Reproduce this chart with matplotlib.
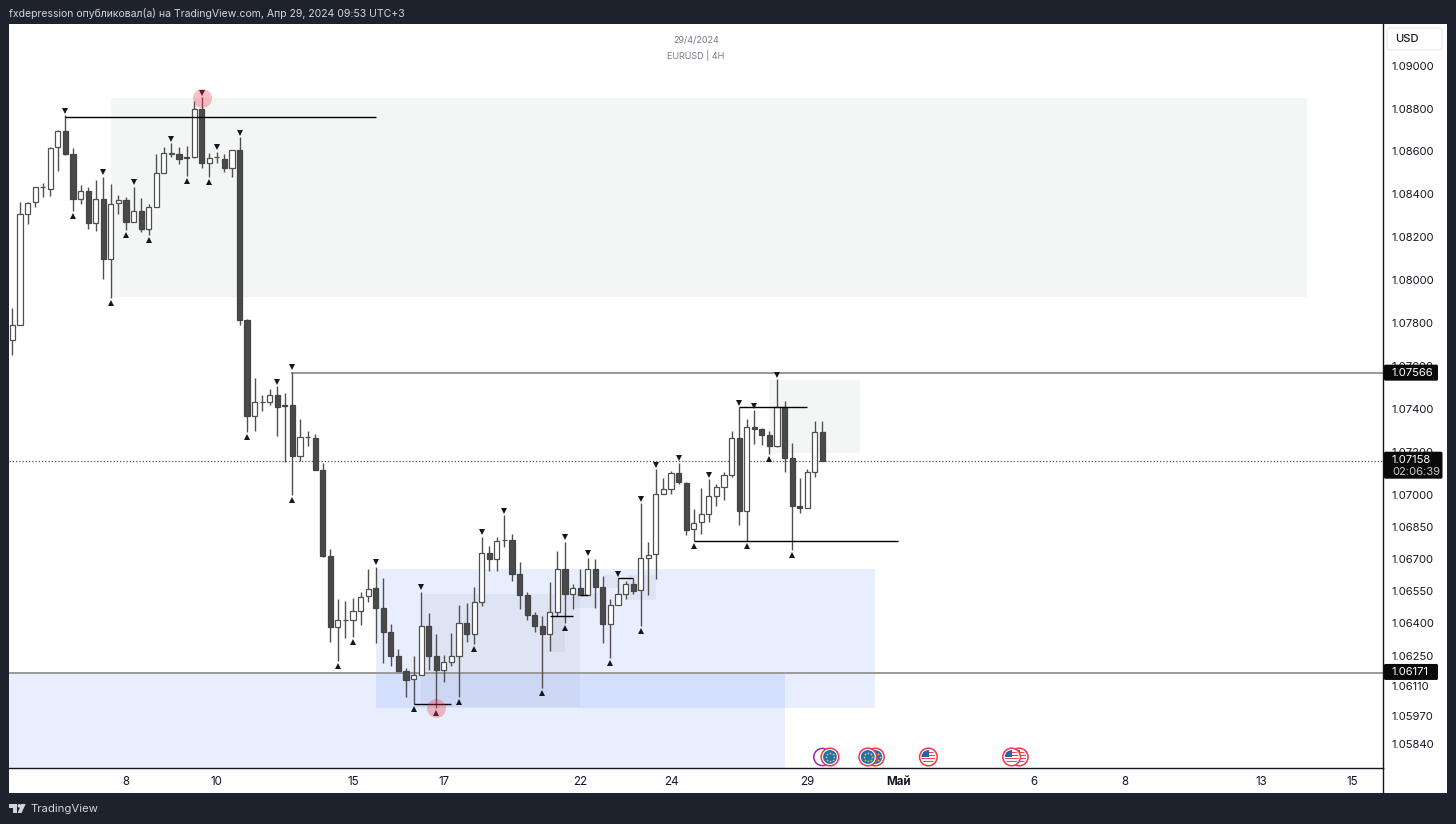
import numpy as np
import matplotlib
matplotlib.use("Agg")
import matplotlib.pyplot as plt
from matplotlib.patches import Rectangle, Circle, FancyBboxPatch, Polygon

plt.rcParams['font.family'] = ['Inter', 'Roboto', 'DejaVu Sans']

# --- candles, EURUSD 4H ---
opens = [1.07721, 1.07790, 1.08308, 1.08362, 1.08432, 1.08427, 1.08619, 1.08693, 1.08587, 1.08376,
         1.08416, 1.08267, 1.08376, 1.08097, 1.08359, 1.08374, 1.08272, 1.08323, 1.08238, 1.08342,
         1.08500, 1.08590, 1.08587, 1.08573, 1.08575, 1.08800, 1.08547, 1.08573, 1.08567, 1.08525,
         1.08605, 1.07812, 1.07368, 1.07433, 1.07430, 1.07464, 1.07417, 1.07419, 1.07181, 1.07268,
         1.07264, 1.07114, 1.06714, 1.06383, 1.06416, 1.06415, 1.06457, 1.06527, 1.06563, 1.06473,
         1.06359, 1.06246, 1.06179, 1.06139, 1.06160, 1.06387, 1.06247, 1.06184, 1.06219, 1.06249,
         1.06400, 1.06349, 1.06498, 1.06729, 1.06701, 1.06787, 1.06787, 1.06628, 1.06533, 1.06437,
         1.06387, 1.06349, 1.06454, 1.06654, 1.06536, 1.06563, 1.06533, 1.06654, 1.06568, 1.06397,
         1.06486, 1.06537, 1.06586, 1.06554, 1.06706, 1.06724, 1.07004, 1.07028, 1.07099, 1.07055,
         1.06838, 1.06871, 1.06909, 1.06996, 1.07038, 1.07094, 1.07262, 1.06926, 1.07315, 1.07304,
         1.07278, 1.07228, 1.07411, 1.07169, 1.06948, 1.06936, 1.07104, 1.07290]
highs = [1.07870, 1.08364, 1.08365, 1.08435, 1.08452, 1.08621, 1.08702, 1.08769, 1.08617, 1.08443,
         1.08432, 1.08466, 1.08481, 1.08447, 1.08396, 1.08388, 1.08435, 1.08381, 1.08357, 1.08587,
         1.08621, 1.08637, 1.08621, 1.08625, 1.08836, 1.08852, 1.08591, 1.08598, 1.08587, 1.08606,
         1.08665, 1.07817, 1.07546, 1.07464, 1.07493, 1.07506, 1.07475, 1.07573, 1.07352, 1.07298,
         1.07285, 1.07146, 1.06749, 1.06512, 1.06505, 1.06519, 1.06547, 1.06652, 1.06664, 1.06610,
         1.06397, 1.06283, 1.06190, 1.06247, 1.06547, 1.06449, 1.06349, 1.06252, 1.06353, 1.06488,
         1.06493, 1.06568, 1.06803, 1.06760, 1.06803, 1.06905, 1.06816, 1.06687, 1.06547, 1.06454,
         1.06434, 1.06594, 1.06738, 1.06780, 1.06586, 1.06653, 1.06706, 1.06698, 1.06620, 1.06512,
         1.06610, 1.06597, 1.06610, 1.06959, 1.06780, 1.07118, 1.07080, 1.07111, 1.07148, 1.07060,
         1.06933, 1.07029, 1.07071, 1.07049, 1.07104, 1.07295, 1.07408, 1.07355, 1.07394, 1.07310,
         1.07298, 1.07537, 1.07437, 1.07242, 1.07078, 1.07118, 1.07343, 1.07343]
lows = [1.07651, 1.07790, 1.08261, 1.08340, 1.08387, 1.08393, 1.08508, 1.08583, 1.08322, 1.08353,
        1.08238, 1.08230, 1.08006, 1.07915, 1.08308, 1.08233, 1.08272, 1.08224, 1.08210, 1.08342,
        1.08500, 1.08575, 1.08541, 1.08486, 1.08569, 1.08522, 1.08479, 1.08544, 1.08503, 1.08479,
        1.07790, 1.07293, 1.07298, 1.07389, 1.07417, 1.07273, 1.07153, 1.06998, 1.07158, 1.07228,
        1.07114, 1.06709, 1.06314, 1.06226, 1.06331, 1.06337, 1.06392, 1.06499, 1.06309, 1.06216,
        1.06201, 1.06178, 1.06058, 1.06022, 1.06160, 1.06185, 1.06004, 1.06128, 1.06201, 1.06058,
        1.06314, 1.06302, 1.06482, 1.06644, 1.06645, 1.06754, 1.06598, 1.06465, 1.06415, 1.06361,
        1.06097, 1.06271, 1.06434, 1.06400, 1.06466, 1.06532, 1.06533, 1.06474, 1.06307, 1.06239,
        1.06486, 1.06513, 1.06536, 1.06389, 1.06532, 1.06605, 1.07004, 1.07002, 1.07049, 1.06811,
        1.06785, 1.06815, 1.06873, 1.06948, 1.06975, 1.07083, 1.06858, 1.06785, 1.07236, 1.07232,
        1.07188, 1.07220, 1.07106, 1.06741, 1.06915, 1.06936, 1.07083, 1.07158]
closes = [1.07790, 1.08308, 1.08361, 1.08432, 1.08433, 1.08617, 1.08693, 1.08589, 1.08376, 1.08416,
          1.08267, 1.08376, 1.08098, 1.08357, 1.08374, 1.08272, 1.08323, 1.08238, 1.08342, 1.08500,
          1.08591, 1.08592, 1.08564, 1.08570, 1.08800, 1.08547, 1.08569, 1.08575, 1.08525, 1.08605,
          1.07814, 1.07368, 1.07431, 1.07434, 1.07463, 1.07411, 1.07412, 1.07181, 1.07267, 1.07270,
          1.07116, 1.06714, 1.06383, 1.06414, 1.06418, 1.06456, 1.06524, 1.06561, 1.06473, 1.06361,
          1.06246, 1.06179, 1.06136, 1.06159, 1.06387, 1.06249, 1.06182, 1.06218, 1.06246, 1.06403,
          1.06349, 1.06498, 1.06729, 1.06700, 1.06785, 1.06789, 1.06630, 1.06533, 1.06438, 1.06387,
          1.06349, 1.06454, 1.06654, 1.06536, 1.06563, 1.06532, 1.06654, 1.06569, 1.06397, 1.06486,
          1.06536, 1.06584, 1.06552, 1.06706, 1.06721, 1.07002, 1.07026, 1.07099, 1.07057, 1.06836,
          1.06869, 1.06908, 1.06996, 1.07037, 1.07092, 1.07262, 1.06926, 1.07315, 1.07304, 1.07279,
          1.07228, 1.07411, 1.07170, 1.06948, 1.06936, 1.07104, 1.07290, 1.07158]

# pivot marks (bar numbers)
top_marks = [7, 12, 16, 21, 25, 27, 30, 35, 37, 48, 54, 62, 65, 73, 76, 80, 83, 85, 88, 92, 96, 98, 101]
bottom_marks = [8, 13, 15, 18, 23, 26, 31, 37, 43, 45, 53, 56, 59, 61, 70, 73, 79, 83, 90, 97, 100, 103]

# price scale and time scale
price_ticks = [1.09, 1.088, 1.086, 1.084, 1.082, 1.08, 1.078, 1.076, 1.074, 1.072, 1.07,
               1.0685, 1.067, 1.0655, 1.064, 1.0625, 1.0611, 1.0597, 1.0584]
day_bars = [15, 27, 45, 57, 75, 87, 105, 117, 135, 147, 165, 177]
day_labels = ['8', '10', '15', '17', '22', '24', '29', 'Май', '6', '8', '13', '15']

# zones: first bar, last bar, bottom price, top price
gray_zones = [(13, 171, 1.07921, 1.08848), (100, 112, 1.07194, 1.07534)]
blue_zones = [(-1, 102, 1.0500, 1.06171), (48, 114, 1.06005, 1.06653)]
shade_zones = [(54, 75, 1.06010, 1.06536), (71, 73, 1.06266, 1.06434), (74.3, 77.4, 1.06471, 1.06540),
               (78.2, 80, 1.06564, 1.06625), (81.2, 85, 1.06510, 1.06625)]

# levels: first bar, last bar, price
black_levels = [(7, 48, 1.08762), (90, 117, 1.06783), (96, 105, 1.07408), (53, 58, 1.06022),
                (71, 74, 1.06434), (75, 76, 1.06532), (80, 82, 1.06610)]
gray_levels = [(37, 182, 1.07566), (-1, 182, 1.06171)]
last_price = 1.07158
pink_bars = [25, 56]
pink_prices = [1.08848, 1.06005]
events_drawn = [(107, 'purple'), (108, 'eu'), (114, 'eu'), (113, 'eu'), (121, 'us'), (133, 'us'), (132, 'us')]

BG = '#1e222d'
DARK = '#131722'
WICK = '#505050'
BODY = '#4a4a4a'

W, H = 1456, 824
fig = plt.figure(figsize=(W / 100, H / 100), dpi=100, facecolor=BG)

# white panel behind chart and scales, then the chart itself
L, R, T, B = 9, 1383, 24, 768
BAR0, BARW = 12.4, 7.57
ax = fig.add_axes([L / W, 1 - B / H, (R - L) / W, (B - T) / H], facecolor='white')
ax.set_xlim((L - BAR0) / BARW, (R - BAR0) / BARW)
ax.set_ylim(1.05726, 1.09194)

n = len(opens)
bars = np.arange(n)
o, h, l, c = map(np.array, (opens, highs, lows, closes))

# zones
for x0, x1, p0, p1 in gray_zones:
    ax.add_patch(Rectangle((x0, p0), x1 - x0, p1 - p0, fc='#f4f6f6', ec='none', zorder=1))
for x0, x1, p0, p1 in blue_zones:
    ax.add_patch(Rectangle((x0, p0), x1 - x0, p1 - p0, fc='#2962ff', alpha=0.10, ec='none', zorder=1))
for x0, x1, p0, p1 in shade_zones:
    ax.add_patch(Rectangle((x0, p0), x1 - x0, p1 - p0, fc='#808890', alpha=0.09, ec='none', zorder=1))

# levels
for x0, x1, p in gray_levels:
    ax.plot([x0, x1], [p, p], color='#9a9a9a', lw=1.4, zorder=2)
ax.axhline(last_price, color='#555555', lw=0.9, ls=(0, (1, 1.6)), zorder=2)

# candles
up = c >= o
bottom = np.minimum(o, c)
height = np.abs(c - o)
ax.vlines(bars, l, h, color=WICK, lw=1.0, zorder=3)
ax.bar(bars[up], height[up], 0.68, bottom[up], fc='white', ec=WICK, lw=0.9, zorder=4)
ax.bar(bars[~up], height[~up], 0.68, bottom[~up], fc=BODY, ec='#444444', lw=0.9, zorder=4)

for x0, x1, p in black_levels:
    ax.plot([x0, x1], [p, p], color='black', lw=1.0, zorder=5, solid_capstyle='butt')

# pivots
ax.plot(top_marks, h[top_marks] + 0.00021, ls='none', marker='v', ms=4.3, color=DARK, mew=0, zorder=6)
ax.plot(bottom_marks, l[bottom_marks] - 0.00023, ls='none', marker='^', ms=4.3, color=DARK, mew=0, zorder=6)
ax.scatter(pink_bars, pink_prices, s=185, color='#f23645', alpha=0.32, lw=0, zorder=7)

# axes
for side in ('top', 'left'):
    ax.spines[side].set_visible(False)
for side in ('right', 'bottom'):
    ax.spines[side].set_color('#131722')
    ax.spines[side].set_linewidth(1.0)
ax.yaxis.tick_right()
ax.set_yticks(price_ticks, [f'{p:.5f}' for p in price_ticks])
ax.set_xticks(day_bars, day_labels)
ax.tick_params(axis='both', length=0, labelcolor=DARK)
ax.tick_params(axis='y', labelsize=8.1, pad=6)
ax.tick_params(axis='x', labelsize=8.3, pad=6)
ax.get_xticklabels()[7].set_fontweight('bold')


def y_px(price):
    return (price - 1.093053) / -0.00004661


# overlay in pixel coordinates for the furniture around the chart
ov = fig.add_axes([0, 0, 1, 1], facecolor='none')
ov.set_xlim(0, W)
ov.set_ylim(H, 0)
ov.axis('off')

# white strips (drawn below the chart axes)
fig.patches.append(Rectangle((L / W, 1 - 792.7 / H), (1447 - L) / W, (792.7 - T) / H,
                             transform=fig.transFigure, fc='white', ec='none', zorder=-1))
ov.plot([R, R], [B, 792.7], color=DARK, lw=1.0)

# USD button
ov.add_patch(FancyBboxPatch((1387, 28), 55, 22, boxstyle='round,pad=0,rounding_size=3',
                            fc='white', ec='#e6e8ee', lw=0.8))
ov.text(1395, 39, 'USD', fontsize=8.1, color=DARK, va='center', fontweight='medium')

# price labels on the scale
for p, txt, right in ((1.07566, '1.07566', 1438), (1.06171, '1.06171', 1438)):
    yc = y_px(p)
    ov.add_patch(FancyBboxPatch((1384, yc - 8.5), right - 1384, 16, boxstyle='round,pad=0,rounding_size=1.5',
                                fc='#0a0a0a', ec='none', zorder=5))
    ov.text(1392, yc - 0.5, txt, fontsize=8.1, color='white', va='center', zorder=6)
yc = y_px(last_price)
ov.add_patch(FancyBboxPatch((1384, yc - 9), 58.5, 27, boxstyle='round,pad=0,rounding_size=1.5',
                            fc='#0a0a0a', ec='none', zorder=5))
ov.text(1392, yc - 1, '1.07158', fontsize=8.1, color='white', va='center', zorder=6)
ov.text(1392, yc + 11.5, '02:06:39', fontsize=8.1, color='#c8c8c8', va='center', zorder=6)

# title block
ov.text(696, 40, '29/4/2024', fontsize=6.5, color='#787b86', ha='center', va='center')
ov.text(696, 55, 'EURUSD | 4H', fontsize=6.5, color='#787b86', ha='center', va='center')

# header and footer
ov.text(9, 13.5, 'fxdepression опубликовал(а) на TradingView.com, Апр 29, 2024 09:53 UTC+3',
        fontsize=7.55, color='#d1d4dc', va='center')
ov.text(30, 809, 'TradingView', fontsize=8.2, color='#d1d4dc', va='center')
ov.add_patch(Polygon([(9, 804), (17, 804), (17, 813), (13, 813), (13, 807.5), (9, 807.5)], fc='#d1d4dc', ec='none'))
ov.add_patch(Circle((19.3, 805.8), 1.8, fc='#d1d4dc', ec='none'))
ov.add_patch(Polygon([(21.3, 804), (25.7, 804), (21.5, 813), (17.6, 813)], fc='#d1d4dc', ec='none'))


# calendar event icons along the bottom of the chart
def event_icon(bar, kind):
    xc = BAR0 + BARW * bar
    yc = 757
    if kind == 'purple':
        ov.add_patch(Circle((xc, yc), 8.6, fc='white', ec='#9c27b0', lw=1.1, zorder=3))
        return
    ov.add_patch(Circle((xc, yc), 8.8, fc='white', ec='#f23645', lw=1.1, zorder=3))
    if kind == 'eu':
        ov.add_patch(Circle((xc, yc), 6.9, fc='#1b6fbf', ec='none', zorder=3))
        angles = np.linspace(0, 2 * np.pi, 8, endpoint=False)
        ov.plot(xc + 4.2 * np.cos(angles), yc + 4.2 * np.sin(angles), ls='none', marker='o', ms=1.3,
                color='#f5c518', mew=0, zorder=3)
    else:
        clip = Circle((xc, yc), 6.9, transform=ov.transData)
        ov.add_patch(Circle((xc, yc), 6.9, fc='white', ec='none', zorder=3))
        for dy in (-4.5, -1.5, 1.5, 4.5):
            ov.add_patch(Rectangle((xc - 7, yc + dy - 0.8), 14, 1.6, fc='#e8434f', ec='none', zorder=3,
                                   clip_path=clip))
        ov.add_patch(Rectangle((xc - 7, yc - 7), 7.5, 7, fc='#2f5fa8', ec='none', zorder=3, clip_path=clip))


for bar, kind in events_drawn:
    event_icon(bar, kind)

fig.savefig('out.png', dpi=100, facecolor=BG)
